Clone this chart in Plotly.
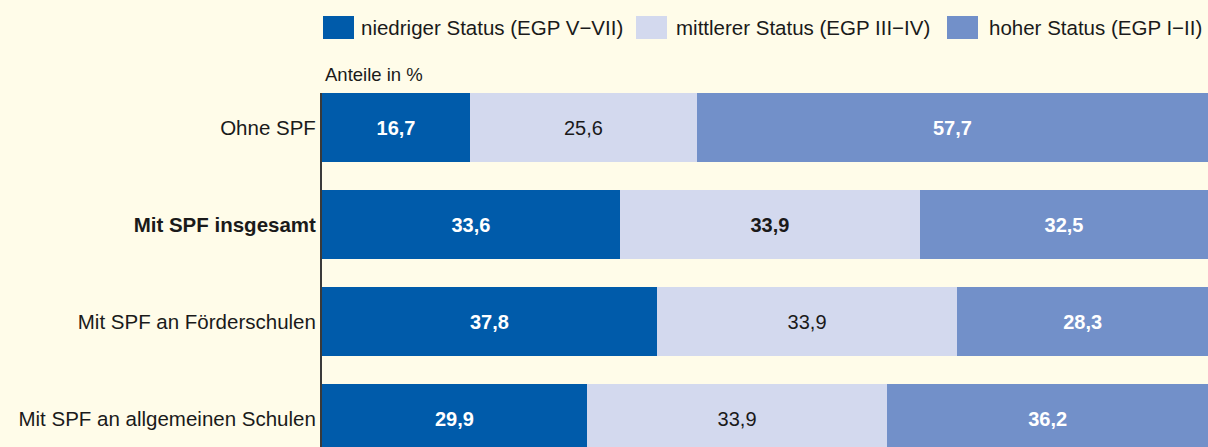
import plotly.graph_objects as go

categories = ["Ohne SPF", "Mit SPF insgesamt", "Mit SPF an Förderschulen", "Mit SPF an allgemeinen Schulen"]
niedrig = [16.7, 33.6, 37.8, 29.9]
mittel = [25.6, 33.9, 33.9, 33.9]
hoch = [57.7, 32.5, 28.3, 36.2]
series_names = ["niedriger Status (EGP V\u2212VII)", "mittlerer Status (EGP III\u2212IV)", "hoher Status (EGP I\u2212II)"]
colors = ["#005BAA", "#D3D9EE", "#7290C9"]
bold_row = "Mit SPF insgesamt"

def fmt(v):
    return f"{v:.1f}".replace(".", ",")

ylabels = [f"<b>{c}</b>" if c == bold_row else c for c in categories]
FONT = "Liberation Sans, Arial, sans-serif"
BG = "#FFFCE9"

fig = go.Figure()
for vals, name, col in zip([niedrig, mittel, hoch], series_names, colors):
    if col == "#D3D9EE":
        texts = [f"<b>{fmt(v)}</b>" if c == bold_row else fmt(v) for v, c in zip(vals, categories)]
        tcol = "#1a1a1a"
    else:
        texts = [f"<b>{fmt(v)}</b>" for v in vals]
        tcol = "white"
    fig.add_trace(go.Bar(
        y=ylabels, x=vals, orientation="h", name=name,
        marker=dict(color=col, line=dict(width=0)),
        text=texts, textposition="inside", insidetextanchor="middle",
        textangle=0, textfont=dict(color=tcol, size=20, family=FONT),
        width=0.715, showlegend=False, hoverinfo="skip",
    ))

# custom legend
leg_x = [323, 636, 947]
leg_tx = [361, 676, 989]
W = 1208
shapes = []
annotations = []
for lx, tx, name, col in zip(leg_x, leg_tx, series_names, colors):
    shapes.append(dict(type="rect", xref="paper", yref="paper",
                       x0=(lx - 322) / (W - 322), x1=(lx + 31 - 322) / (W - 322),
                       y0=1 + (93 - 39) / 354, y1=1 + (93 - 16) / 354,
                       fillcolor=col, line=dict(width=0)))
    annotations.append(dict(xref="paper", yref="paper",
                            x=(tx - 322) / (W - 322), y=1 + (93 - 28) / 354,
                            text=name, showarrow=False, xanchor="left", yanchor="middle",
                            xshift=-2,
                            font=dict(size=20.5, color="#1a1a1a", family=FONT)))
annotations.append(dict(xref="paper", yref="paper", x=(323 - 322) / (W - 322), y=1 + (93 - 75) / 354,
                        text="Anteile in %", showarrow=False, xanchor="left", yanchor="middle",
                        font=dict(size=18.5, color="#1a1a1a", family=FONT)))

fig.update_layout(
    barmode="stack", width=1208, height=447,
    margin=dict(l=322, r=0, t=93, b=0),
    paper_bgcolor=BG, plot_bgcolor=BG,
    shapes=shapes, annotations=annotations,
    font=dict(family=FONT, size=20, color="#1a1a1a"),
    xaxis=dict(range=[0, 100], visible=False, fixedrange=True),
    yaxis=dict(range=[3.294, -0.3575], showline=True, linecolor="#3a3a3a", linewidth=2,
               ticks="", ticklabelstandoff=0, showgrid=False, zeroline=False, fixedrange=True,
               tickfont=dict(size=20.5, color="#1a1a1a", family=FONT)),
)
fig.write_html("out.html", config={"displayModeBar": False},
               post_script="document.body.style.margin='0';document.body.style.padding='0';")
